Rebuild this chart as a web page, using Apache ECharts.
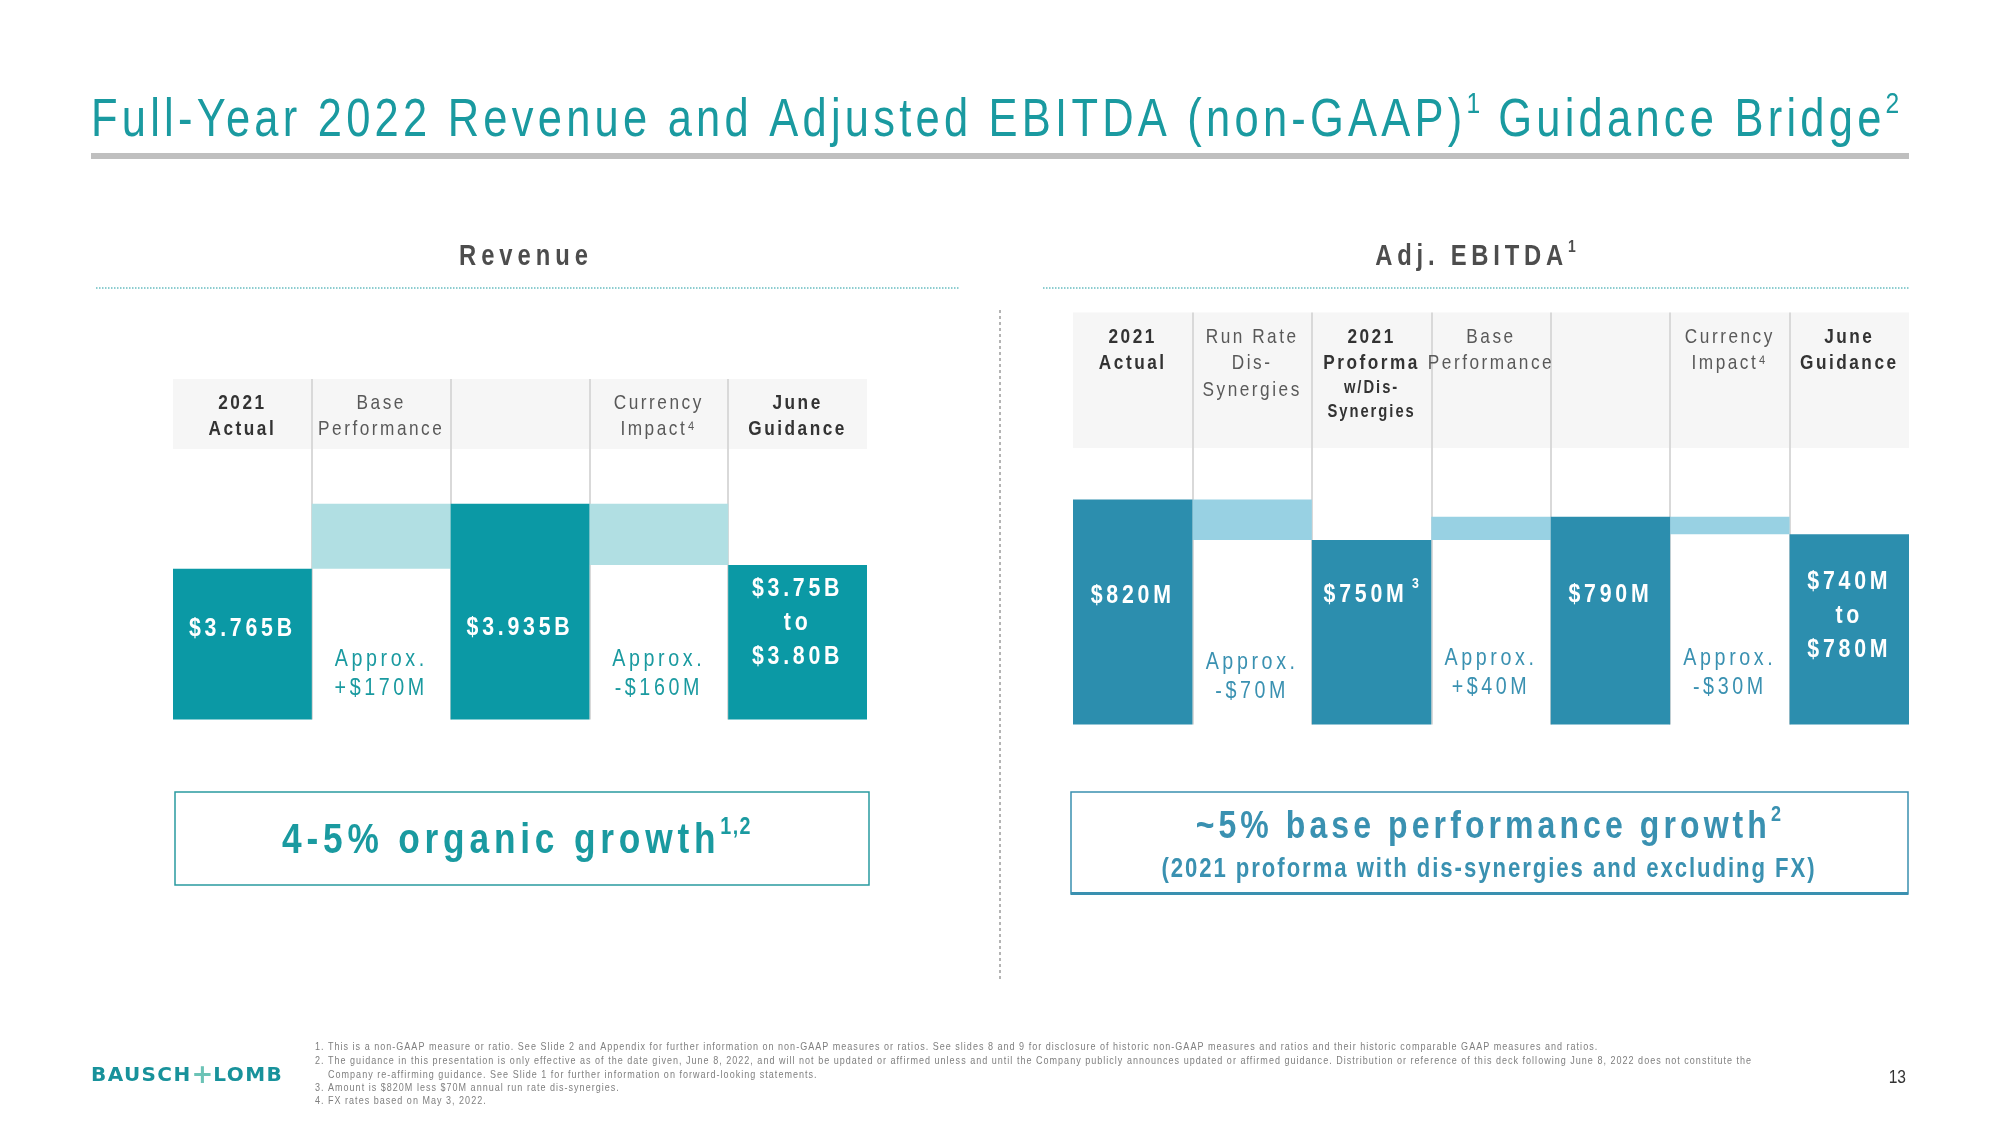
<!DOCTYPE html>
<html><head><meta charset="utf-8">
<script src="https://cdn.jsdelivr.net/npm/echarts@6/dist/echarts.min.js"></script>
<style>html,body{margin:0;padding:0;background:#fff}#c{width:2000px;height:1125px}</style>
</head><body><div id="c"></div>
<script>
// ---------------- DATA ----------------
const revCategories = ['2021\nActual', 'Base\nPerformance', '', 'Currency\nImpact⁴', 'June\nGuidance'];
const revSubtotalB = [3.765, null, 3.935, null, null];
const revStepsM = [null, 170, null, -160, null];
const revGuidanceB = [3.75, 3.80];

const ebCategories = ['2021\nActual', 'Run Rate\nDis-\nSynergies', '2021\nProforma\nw/Dis-\nSynergies', 'Base\nPerformance', '', 'Currency\nImpact⁴', 'June\nGuidance'];
const ebSubtotalM = [820, null, 750, null, 790, null, null];
const ebStepsM = [null, -70, null, 40, null, -30, null];
const ebGuidanceM = [740, 780];

const footnotes = [
  ['1.', 'This is a non-GAAP measure or ratio. See Slide 2 and Appendix for further information on non-GAAP measures or ratios. See slides 8 and 9 for disclosure of historic non-GAAP measures and ratios and their historic comparable GAAP measures and ratios.'],
  ['2.', 'The guidance in this presentation is only effective as of the date given, June 8, 2022, and will not be updated or affirmed unless and until the Company publicly announces updated or affirmed guidance. Distribution or reference of this deck following June 8, 2022 does not constitute the'],
  ['', 'Company re-affirming guidance. See Slide 1 for further information on forward-looking statements.'],
  ['3.', 'Amount is $820M less $70M annual run rate dis-synergies.'],
  ['4.', 'FX rates based on May 3, 2022.']
];

// ------- canvas text: letter spacing (lsNNN = per-mille em) and narrow width (cxNN = % width) -------
(function () {
  const P = CanvasRenderingContext2D.prototype;
  const d = Object.getOwnPropertyDescriptor(P, 'font');
  if (!d) return;
  const hasLS = 'letterSpacing' in P;
  const sxOf = f => { const m = /\bcx(\d+)\b/.exec(f || ''); return m ? parseInt(m[1], 10) / 100 : 1; };
  Object.defineProperty(P, 'font', {
    configurable: true, enumerable: d.enumerable,
    get() { return d.get.call(this); },
    set(v) {
      d.set.call(this, v);
      if (!hasLS) return;
      const m = /\bls(\d+)\b/.exec(v), s = /(\d+(?:\.\d+)?)px/.exec(v);
      const sx = sxOf(v);
      this.letterSpacing = (m && s) ? (parseFloat(s[1]) * parseInt(m[1], 10) / 1000 / sx).toFixed(3) + 'px' : '0px';
    }
  });
  const mt = P.measureText;
  P.measureText = function (t) {
    const r = mt.call(this, t);
    const sx = sxOf(this.font);
    if (sx === 1) return r;
    return {
      width: r.width * sx,
      actualBoundingBoxAscent: r.actualBoundingBoxAscent, actualBoundingBoxDescent: r.actualBoundingBoxDescent,
      actualBoundingBoxLeft: r.actualBoundingBoxLeft * sx, actualBoundingBoxRight: r.actualBoundingBoxRight * sx,
      fontBoundingBoxAscent: r.fontBoundingBoxAscent, fontBoundingBoxDescent: r.fontBoundingBoxDescent
    };
  };
  ['fillText', 'strokeText'].forEach(name => {
    const o = P[name];
    P[name] = function (t, x, y, mw) {
      const sx = sxOf(this.font);
      if (sx === 1) return mw === undefined ? o.call(this, t, x, y) : o.call(this, t, x, y, mw);
      this.save(); this.translate(x, y); this.scale(sx, 1);
      if (mw === undefined) o.call(this, t, 0, 0); else o.call(this, t, 0, 0, mw / sx);
      this.restore();
    };
  });
})();

// ---------------- helpers ----------------
const BASEFAM = "'Liberation Sans', Arial, sans-serif";
const ff = (sp) => 'ls' + sp + ', cx82, ' + BASEFAM;

function waterfall(subtotals, steps, guidance, scale) {
  const base = [], delta = [], total = [];
  let running = null;
  for (let i = 0; i < subtotals.length; i++) {
    if (subtotals[i] != null) {
      running = subtotals[i]; base.push(0); delta.push(0); total.push(subtotals[i]);
    } else if (steps[i] != null) {
      const s = steps[i] * scale;
      base.push(Math.min(running, running + s)); delta.push(Math.abs(s)); total.push(0);
      running += s;
    } else {
      base.push(0); delta.push(0); total.push((guidance[0] + guidance[1]) / 2);
    }
  }
  return { base, delta, total };
}
const rev = waterfall(revSubtotalB, revStepsM, revGuidanceB, 0.001);
const eb = waterfall(ebSubtotalM, ebStepsM, ebGuidanceM, 1);

// ---------------- colors / layout ----------------
const C = {
  title: '#1a9aa0', revDark: '#0b99a5', revLight: '#b1dfe3', revText: '#1a9aa0',
  ebDark: '#2c8eae', ebLight: '#98d1e3', ebText: '#3a91b1',
  hdrBg: '#f6f6f6', sep: '#d9d9d9', bold: '#333333', norm: '#595959', section: '#4d4d4d'
};
const RG = { left: 173, right: 867, top: 379, hb: 449, bottom: 719.4 };
const EG = { left: 1073, right: 1909, top: 312.5, hb: 448, bottom: 724.5 };
// label placement (distance from bar bottom)
const revTotalDist = [73.6, 0, 74.9, 0, 46];
const revStepDist = 16;
const ebTotalDist = [111.8, 0, 113.1, 0, 113.1, 0, 58.1];
const ebStepDist = [0, 18.4, 0, 22.3, 0, 22.3, 0];

function headerRich() {
  return {
    b: { fontFamily: ff(120), fontSize: 21, fontWeight: 'bold', color: C.bold, lineHeight: 26.5 },
    n: { fontFamily: ff(120), fontSize: 21, color: C.norm, lineHeight: 26.5 },
    bs: { fontFamily: ff(110), fontSize: 18, fontWeight: 'bold', color: C.bold, lineHeight: 24 }
  };
}
function headerFormatter(boldIdx, smallFrom) {
  return function (value, idx) {
    if (!value) return '';
    const lines = value.split('\n');
    return lines.map((l, k) => {
      let st = boldIdx.indexOf(idx) >= 0 ? 'b' : 'n';
      if (smallFrom && smallFrom[idx] != null && k >= smallFrom[idx]) st = 'bs';
      return '{' + st + '|' + l + '}';
    }).join('\n');
  };
}
function xAxisCfg(gi, cats, boldIdx, smallFrom, margin) {
  return {
    gridIndex: gi, type: 'category', position: 'top', data: cats,
    axisLine: { show: false }, axisTick: { show: false },
    splitLine: { show: true, showMinLine: false, showMaxLine: false, lineStyle: { color: C.sep, width: 2 } },
    axisLabel: {
      interval: 0, margin: margin, verticalAlign: 'top', align: 'center', hideOverlap: false,
      formatter: headerFormatter(boldIdx, smallFrom), rich: headerRich()
    }
  };
}
const fmtM = v => (v < 0 ? '-' : '+') + '$' + Math.abs(v) + 'M';

const totalLabelStyle = { fontFamily: ff(145), fontSize: 26, fontWeight: 'bold', color: '#fff', lineHeight: 34 };

const series = [
  // Revenue
  {
    type: 'bar', name: 'revBase', xAxisIndex: 0, yAxisIndex: 0, stack: 'rev', barCategoryGap: '0%',
    itemStyle: { color: 'rgba(0,0,0,0)' }, data: rev.base,
    label: {
      show: true, position: 'insideBottom', distance: revStepDist,
      fontFamily: ff(150), fontSize: 24, color: C.revText, lineHeight: 29.4,
      formatter: p => revStepsM[p.dataIndex] != null ? 'Approx.\n' + fmtM(revStepsM[p.dataIndex]) : ''
    }
  },
  {
    type: 'bar', name: 'revDelta', xAxisIndex: 0, yAxisIndex: 0, stack: 'rev', barCategoryGap: '0%',
    itemStyle: { color: C.revLight }, data: rev.delta
  },
  {
    type: 'bar', name: 'revTotal', xAxisIndex: 0, yAxisIndex: 0, stack: 'rev', barCategoryGap: '0%',
    itemStyle: { color: C.revDark },
    data: rev.total.map((v, i) => ({ value: v, label: { distance: revTotalDist[i] } })),
    label: Object.assign({
      show: true, position: 'insideBottom',
      formatter: p => {
        const i = p.dataIndex;
        if (revSubtotalB[i] != null) return '$' + revSubtotalB[i].toFixed(3) + 'B';
        if (revStepsM[i] == null) return '$' + revGuidanceB[0].toFixed(2) + 'B\nto\n$' + revGuidanceB[1].toFixed(2) + 'B';
        return '';
      }
    }, totalLabelStyle)
  },
  // EBITDA
  {
    type: 'bar', name: 'ebBase', xAxisIndex: 1, yAxisIndex: 1, stack: 'eb', barCategoryGap: '0%',
    itemStyle: { color: 'rgba(0,0,0,0)' },
    data: eb.base.map((v, i) => ({ value: v, label: { distance: ebStepDist[i] } })),
    label: {
      show: true, position: 'insideBottom',
      fontFamily: ff(150), fontSize: 24, color: C.ebText, lineHeight: 29.4,
      formatter: p => ebStepsM[p.dataIndex] != null ? 'Approx.\n' + fmtM(ebStepsM[p.dataIndex]) : ''
    }
  },
  {
    type: 'bar', name: 'ebDelta', xAxisIndex: 1, yAxisIndex: 1, stack: 'eb', barCategoryGap: '0%',
    itemStyle: { color: C.ebLight }, data: eb.delta
  },
  {
    type: 'bar', name: 'ebTotal', xAxisIndex: 1, yAxisIndex: 1, stack: 'eb', barCategoryGap: '0%',
    itemStyle: { color: C.ebDark },
    data: eb.total.map((v, i) => ({ value: v, label: { distance: ebTotalDist[i] } })),
    label: Object.assign({
      show: true, position: 'insideBottom',
      formatter: p => {
        const i = p.dataIndex;
        if (ebSubtotalM[i] != null) return i === 2 ? '{v|$' + ebSubtotalM[i] + 'M}{s| 3}' : '$' + ebSubtotalM[i] + 'M';
        if (ebStepsM[i] == null) return '$' + ebGuidanceM[0] + 'M\nto\n$' + ebGuidanceM[1] + 'M';
        return '';
      },
      rich: {
        v: Object.assign({}, totalLabelStyle),
        s: { fontFamily: ff(60), fontSize: 15, fontWeight: 'bold', color: '#fff', lineHeight: 26, verticalAlign: 'top' }
      }
    }, totalLabelStyle)
  }
];

// ---------------- graphic decorations & texts ----------------
const g = [];
g.push({ type: 'rect', z: -100, shape: { x: RG.left, y: RG.top, width: RG.right - RG.left, height: RG.hb - RG.top }, style: { fill: C.hdrBg } });
g.push({ type: 'rect', z: -100, shape: { x: EG.left, y: EG.top, width: EG.right - EG.left, height: EG.hb - EG.top }, style: { fill: C.hdrBg } });
g.push({ type: 'rect', shape: { x: 91, y: 153, width: 1818, height: 6 }, style: { fill: '#bfbfbf' } });
g.push({
  type: 'text', x: 91, y: 121.5, style: {
    text: '{m|Full-Year 2022 Revenue and Adjusted EBITDA (non-GAAP)}{s|1}{m| Guidance Bridge}{s|2}',
    align: 'left', verticalAlign: 'middle',
    rich: {
      m: { fontFamily: ff(80), fontSize: 53, fill: C.title, lineHeight: 60 },
      s: { fontFamily: ff(60), fontSize: 30, fill: C.title, lineHeight: 40, verticalAlign: 'top' }
    }
  }
});
g.push({ type: 'text', x: 526, y: 256.5, style: { text: 'Revenue', align: 'center', verticalAlign: 'middle', fontFamily: ff(172), fontSize: 29, fontWeight: 'bold', fill: C.section } });
g.push({
  type: 'text', x: 1476, y: 256.5, style: {
    text: '{m|Adj. EBITDA}{s|1}', align: 'center', verticalAlign: 'middle',
    rich: {
      m: { fontFamily: ff(165), fontSize: 29, fontWeight: 'bold', fill: C.section, lineHeight: 34 },
      s: { fontFamily: ff(60), fontSize: 17, fontWeight: 'bold', fill: C.section, lineHeight: 25, verticalAlign: 'top' }
    }
  }
});
g.push({ type: 'line', shape: { x1: 96, y1: 288, x2: 959, y2: 288 }, style: { stroke: C.title, lineWidth: 1, lineDash: [1.5, 1.5] } });
g.push({ type: 'line', shape: { x1: 1043, y1: 288, x2: 1909, y2: 288 }, style: { stroke: C.title, lineWidth: 1, lineDash: [1.5, 1.5] } });
g.push({ type: 'line', shape: { x1: 1000, y1: 310, x2: 1000, y2: 980 }, style: { stroke: '#8c8c8c', lineWidth: 1.3, lineDash: [3, 3] } });
// boxes
g.push({ type: 'rect', shape: { x: 175, y: 792, width: 694, height: 93 }, style: { fill: 'none', stroke: '#2a9ba0', lineWidth: 1.5 } });
g.push({
  type: 'text', x: 517, y: 841, style: {
    text: '{m|4-5% organic growth}{s|1,2}', align: 'center', verticalAlign: 'middle',
    rich: {
      m: { fontFamily: ff(112), fontSize: 43, fontWeight: 'bold', fill: C.revText, lineHeight: 48 },
      s: { fontFamily: ff(60), fontSize: 24, fontWeight: 'bold', fill: C.revText, lineHeight: 34, verticalAlign: 'top' }
    }
  }
});
g.push({ type: 'rect', shape: { x: 1071, y: 792, width: 837, height: 102 }, style: { fill: 'none', stroke: '#3a90b0', lineWidth: 1.5 } });
g.push({ type: 'line', shape: { x1: 1071, y1: 893.5, x2: 1908, y2: 893.5 }, style: { stroke: '#3a90b0', lineWidth: 3 } });
g.push({
  type: 'text', x: 1489, y: 827.5, style: {
    text: '{m|~5% base performance growth}{s|2}', align: 'center', verticalAlign: 'middle',
    rich: {
      m: { fontFamily: ff(105), fontSize: 39, fontWeight: 'bold', fill: C.ebText, lineHeight: 44 },
      s: { fontFamily: ff(60), fontSize: 22, fontWeight: 'bold', fill: C.ebText, lineHeight: 32, verticalAlign: 'top' }
    }
  }
});
g.push({ type: 'text', x: 1489, y: 870, style: { text: '(2021 proforma with dis-synergies and excluding FX)', align: 'center', verticalAlign: 'middle', fontFamily: ff(72), fontSize: 27, fontWeight: 'bold', fill: C.ebText } });
// footnotes
const fnY = [1047, 1060.5, 1074.5, 1088, 1101];
footnotes.forEach((f, i) => {
  if (f[0]) g.push({ type: 'text', x: 315, y: fnY[i], style: { text: f[0], align: 'left', verticalAlign: 'middle', fontFamily: ff(92), fontSize: 11, fill: '#7f7f7f' } });
  g.push({ type: 'text', x: 328, y: fnY[i], style: { text: f[1], align: 'left', verticalAlign: 'middle', fontFamily: ff(92), fontSize: 11, fill: '#7f7f7f' } });
});
// logo & page number
g.push({
  type: 'text', x: 91, y: 1076, style: {
    text: '{a|BAUSCH}{p|+}{a|LOMB}', align: 'left', verticalAlign: 'middle',
    rich: {
      a: { fontFamily: "ls70, 'DejaVu Sans', sans-serif", fontSize: 20, fontWeight: 'bold', fill: '#18929b' },
      p: { fontFamily: "'DejaVu Sans', sans-serif", fontSize: 26, fontWeight: 'bold', fill: '#6cc3b6' }
    }
  }
});
g.push({ type: 'text', x: 1906, y: 1078, style: { text: '13', align: 'right', verticalAlign: 'middle', fontFamily: ff(0), fontSize: 19, fill: '#333' } });

const option = {
  backgroundColor: '#ffffff',
  animation: false,
  grid: [
    { left: RG.left, top: RG.top, width: RG.right - RG.left, height: RG.bottom - RG.top, outerBoundsMode: 'none' },
    { left: EG.left, top: EG.top, width: EG.right - EG.left, height: EG.bottom - EG.top, outerBoundsMode: 'none' }
  ],
  xAxis: [
    xAxisCfg(0, revCategories, [0, 4], null, -10.5),
    xAxisCfg(1, ebCategories, [0, 2, 6], { 2: 2 }, -11)
  ],
  yAxis: [
    { gridIndex: 0, type: 'value', min: 3.3715, max: 4.2612, show: false },
    { gridIndex: 1, type: 'value', min: 430.9, max: 1143.4, show: false }
  ],
  series: series.map(s => Object.assign({ silent: true, clip: true }, s)),
  graphic: { elements: g }
};
const chart = echarts.init(document.getElementById('c'), null, { renderer: 'canvas' });
chart.setOption(option);
</script>
</body></html>
